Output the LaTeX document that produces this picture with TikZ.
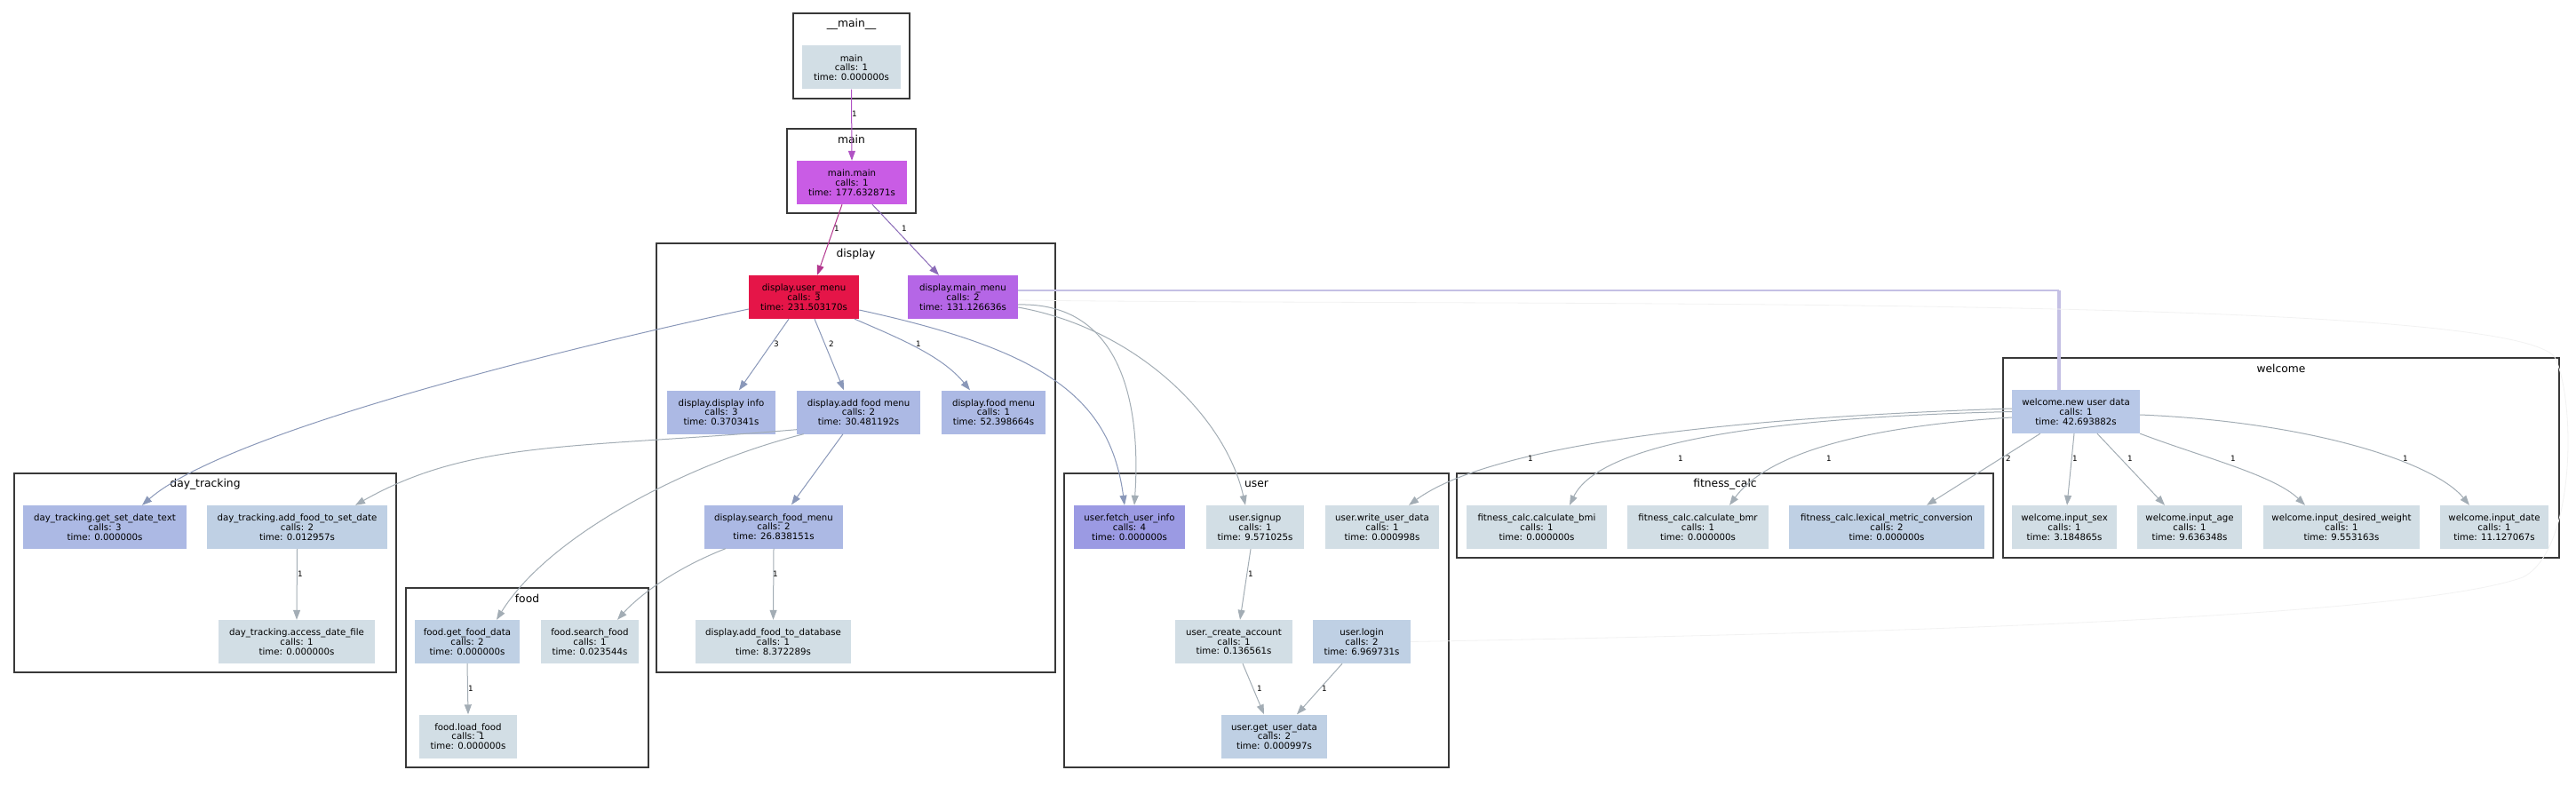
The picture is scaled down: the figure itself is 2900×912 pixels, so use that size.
\documentclass[tikz,border=0pt]{standalone}
\usepackage{fontspec}
\setmainfont{DejaVu Sans}
\usepackage{xcolor}
\usepackage{tikz}
\usetikzlibrary{arrows.meta}
\definecolor{cold}{HTML}{D2DEE5}
\definecolor{cool}{HTML}{BFD0E4}
\definecolor{mild}{HTML}{B8C8E7}
\definecolor{warmish}{HTML}{ACB9E4}
\definecolor{warm}{HTML}{9B9AE3}
\definecolor{hotter}{HTML}{B566E6}
\definecolor{hot}{HTML}{C95CE5}
\definecolor{hottest}{HTML}{E51548}
\definecolor{edgeblue}{HTML}{8A98B9}
\definecolor{edgegray}{HTML}{A3ADB5}
\definecolor{edgelav}{HTML}{C4C0E4}
\definecolor{edgemain}{HTML}{B052C4}
\definecolor{edgepink}{HTML}{B3368E}
\definecolor{edgepurple}{HTML}{8B6BB8}
\definecolor{frame}{HTML}{383838}

\begin{document}
\begin{tikzpicture}[x=1pt, y=-1pt,
  fn/.style={rectangle, inner sep=0pt, minimum height=49pt, align=center,
    font=\fontsize{10.2}{10.8}\selectfont},
  cluster/.style={draw=frame, line width=2.6pt},
  clabel/.style={font=\fontsize{12.3}{14}\selectfont, inner sep=0pt},
  elabel/.style={font=\fontsize{8.8}{9}\selectfont, inner sep=0pt},
  call/.style={line width=1pt, -{Triangle[length=11pt,width=8pt]}}]
\fill[white] (0,0) rectangle (2900,912);
\useasboundingbox (0,0) rectangle (2900,912);

\foreach \nm/\xa/\ya/\xb/\yb/\txt in {
  top/893/15/1024/111/\_\_main\_\_,
  mainmod/886/145/1031/240/main,
  display/739/274/1188/757/display,
  daytr/16/533/446/757/day\_tracking,
  food/457/662/730/864/food,
  user/1198/533/1631/864/user,
  fitness/1640/533/2244/628/fitness\_calc,
  welcome/2255/403/2881/628/welcome} {
  \draw[cluster] (\xa,\ya) rectangle (\xb,\yb);
  \node[clabel] (lbl-\nm) at ({(\xa+\xb)/2},{\ya+12}) {\txt};
}

\node[fn, fill=cold, minimum width=111pt] (mainfn) at (958.5,76) {main\\calls: 1\\time: 0.000000s};
\node[fn, fill=hot, minimum width=124pt] (mainmain) at (959,205.5) {main.main\\calls: 1\\time: 177.632871s};
\node[fn, fill=hottest, minimum width=124pt] (usermenu) at (905,334.5) {display.user\_menu\\calls: 3\\time: 231.503170s};
\node[fn, fill=hotter, minimum width=124pt] (mainmenu) at (1084,334.5) {display.main\_menu\\calls: 2\\time: 131.126636s};
\node[fn, fill=warmish, minimum width=122pt] (dispinfo) at (812,464) {display.display info\\calls: 3\\time: 0.370341s};
\node[fn, fill=warmish, minimum width=139pt] (addfoodmenu) at (966.5,464) {display.add food menu\\calls: 2\\time: 30.481192s};
\node[fn, fill=warmish, minimum width=117pt] (foodmenu) at (1118.5,464) {display.food menu\\calls: 1\\time: 52.398664s};
\node[fn, fill=warmish, minimum width=156pt] (searchfoodmenu) at (871,593) {display.search\_food\_menu\\calls: 2\\time: 26.838151s};
\node[fn, fill=cold, minimum width=175pt] (addfooddb) at (870.5,722.5) {display.add\_food\_to\_database\\calls: 1\\time: 8.372289s};

\node[fn, fill=warmish, minimum width=184pt] (getsetdate) at (118,593.5) {day\_tracking.get\_set\_date\_text\\calls: 3\\time: 0.000000s};
\node[fn, fill=cool, minimum width=203pt] (addfoodset) at (334.5,593.5) {day\_tracking.add\_food\_to\_set\_date\\calls: 2\\time: 0.012957s};
\node[fn, fill=cold, minimum width=176pt] (accessdate) at (334,722.5) {day\_tracking.access\_date\_file\\calls: 1\\time: 0.000000s};

\node[fn, fill=cool, minimum width=118pt] (getfooddata) at (526,722.5) {food.get\_food\_data\\calls: 2\\time: 0.000000s};
\node[fn, fill=cold, minimum width=110pt] (searchfood) at (664,722.5) {food.search\_food\\calls: 1\\time: 0.023544s};
\node[fn, fill=cold, minimum width=110pt] (loadfood) at (527,829) {food.load\_food\\calls: 1\\time: 0.000000s};

\node[fn, fill=warm, minimum width=125pt] (fetchuser) at (1271.5,593.5) {user.fetch\_user\_info\\calls: 4\\time: 0.000000s};
\node[fn, fill=cold, minimum width=110pt] (signup) at (1413,593.5) {user.signup\\calls: 1\\time: 9.571025s};
\node[fn, fill=cold, minimum width=128pt] (writeuser) at (1556,593.5) {user.write\_user\_data\\calls: 1\\time: 0.000998s};
\node[fn, fill=cold, minimum width=132pt] (createacct) at (1389,722.5) {user.\_create\_account\\calls: 1\\time: 0.136561s};
\node[fn, fill=cool, minimum width=110pt] (login) at (1533,722.5) {user.login\\calls: 2\\time: 6.969731s};
\node[fn, fill=cool, minimum width=119pt] (getuserdata) at (1434.5,829) {user.get\_user\_data\\calls: 2\\time: 0.000997s};

\node[fn, fill=cold, minimum width=158pt] (bmi) at (1730,593.5) {fitness\_calc.calculate\_bmi\\calls: 1\\time: 0.000000s};
\node[fn, fill=cold, minimum width=159pt] (bmr) at (1911.5,593.5) {fitness\_calc.calculate\_bmr\\calls: 1\\time: 0.000000s};
\node[fn, fill=cool, minimum width=220pt] (lexical) at (2124,593.5) {fitness\_calc.lexical\_metric\_conversion\\calls: 2\\time: 0.000000s};

\node[fn, fill=mild, minimum width=144pt] (newuser) at (2337,463.5) {welcome.new user data\\calls: 1\\time: 42.693882s};
\node[fn, fill=cold, minimum width=118pt] (inputsex) at (2324,593.5) {welcome.input\_sex\\calls: 1\\time: 3.184865s};
\node[fn, fill=cold, minimum width=118pt] (inputage) at (2465,593.5) {welcome.input\_age\\calls: 1\\time: 9.636348s};
\node[fn, fill=cold, minimum width=176pt] (inputweight) at (2636,593.5) {welcome.input\_desired\_weight\\calls: 1\\time: 9.553163s};
\node[fn, fill=cold, minimum width=122pt] (inputdate) at (2808,593.5) {welcome.input\_date\\calls: 1\\time: 11.127067s};

\draw[call, edgemain] (mainfn.south) -- (mainmain.north);
\draw[call, edgepink] ([xshift=-11pt]mainmain.south) -- ([xshift=15pt]usermenu.north);
\draw[call, edgepurple] ([xshift=23pt]mainmain.south) -- ([xshift=-27pt]mainmenu.north);

\draw[call, edgeblue] ([xshift=-17pt]usermenu.south) -- ([xshift=20pt]dispinfo.north);
\draw[call, edgeblue] ([xshift=12pt]usermenu.south) -- ([xshift=-16.5pt]addfoodmenu.north);
\draw[call, edgeblue] ([xshift=-5pt]usermenu.south east) .. controls (1010,380) and (1060,400) .. ([xshift=-26.5pt]foodmenu.north);
\draw[call, edgeblue] ([yshift=-13.5pt]usermenu.west) .. controls (600,400) and (250,490) .. ([xshift=42pt]getsetdate.north);
\draw[call, edgeblue] ([yshift=-14.5pt]usermenu.east) .. controls (1180,395) and (1250,450) .. ([xshift=-5.5pt]fetchuser.north);

\draw[call, edgegray] ([yshift=-8.5pt]mainmenu.east) .. controls (1260,340) and (1285,450) .. ([xshift=5.5pt]fetchuser.north);
\draw[call, edgegray] ([yshift=-11.5pt]mainmenu.east) .. controls (1280,370) and (1380,470) .. ([xshift=-11pt]signup.north);
\coordinate (turn) at (2318,327);
\draw[edgelav, line width=1.4pt] ([yshift=7.5pt]mainmenu.east) -- (turn);
\draw[edgelav, line width=4.5pt] (turn) -- ([xshift=-19pt]newuser.north);
\draw[gray!10, line width=0.8pt] ([yshift=-3.5pt]mainmenu.east) .. controls (1700,345) and (2820,330) .. (2876,402)
  .. controls (2900,450) and (2900,620) .. (2840,650) .. controls (2700,700) and (2000,715) .. (login.east);

\draw[call, edgegray] ([yshift=5pt]addfoodmenu.south west) .. controls (650,505) and (530,495) .. ([xshift=65.5pt]addfoodset.north);
\draw[call, edgegray] ([xshift=8pt]addfoodmenu.south west) .. controls (780,520) and (620,600) .. ([xshift=33pt]getfooddata.north);
\draw[call, edgeblue] ([xshift=-17.5pt]addfoodmenu.south) -- ([xshift=20pt]searchfoodmenu.north);
\draw[call, edgegray] ([xshift=24pt]searchfoodmenu.south west) .. controls (760,640) and (720,670) .. ([xshift=31pt]searchfood.north);
\draw[call, edgegray] (searchfoodmenu.south) -- (addfooddb.north);
\draw[call, edgegray] (addfoodset.south) -- (accessdate.north);
\draw[call, edgegray] (getfooddata.south) -- (loadfood.north);

\draw[call, edgegray] ([xshift=-5pt]signup.south) -- ([xshift=7pt]createacct.north);
\draw[call, edgegray] ([xshift=10pt]createacct.south) -- ([xshift=-11.5pt]getuserdata.north);
\draw[call, edgegray] ([xshift=-22pt]login.south) -- ([xshift=25.5pt]getuserdata.north);

\draw[call, edgegray] ([yshift=3.5pt]newuser.west) .. controls (1950,470) and (1680,500) .. ([xshift=30pt]writeuser.north);
\draw[call, edgegray] (newuser.west) .. controls (1980,470) and (1800,500) .. ([xshift=37pt]bmi.north);
\draw[call, edgegray] ([yshift=-6.5pt]newuser.west) .. controls (2100,480) and (1990,510) .. ([xshift=35.5pt]bmr.north);
\draw[call, edgegray] ([xshift=32pt]newuser.south west) -- ([xshift=45pt]lexical.north);
\draw[call, edgegray] ([xshift=-2pt]newuser.south) -- ([xshift=3pt]inputsex.north);
\draw[call, edgegray] ([xshift=24pt]newuser.south) -- ([xshift=-28pt]inputage.north);
\draw[call, edgegray] (newuser.south east) .. controls (2480,515) and (2560,535) .. ([xshift=-41pt]inputweight.north);
\draw[call, edgegray] ([yshift=-3.5pt]newuser.east) .. controls (2600,475) and (2740,520) .. ([xshift=-28pt]inputdate.north);

\foreach \lx/\ly/\lt [count=\i] in {962/128/1, 942/257/1, 1018/257/1, 874/387/3, 936/387/2, 1034/387/1,
  873/646/1, 338/646/1, 530/775/1, 1408/646/1, 1418/775/1, 1491/775/1,
  1723/516/1, 1892/516/1, 2059/516/1, 2261/516/2, 2336/516/1, 2398/516/1, 2514/516/1, 2708/516/1} {
  \node[elabel] (cnt\i) at (\lx,\ly) {\lt};
}
\end{tikzpicture}
\end{document}
